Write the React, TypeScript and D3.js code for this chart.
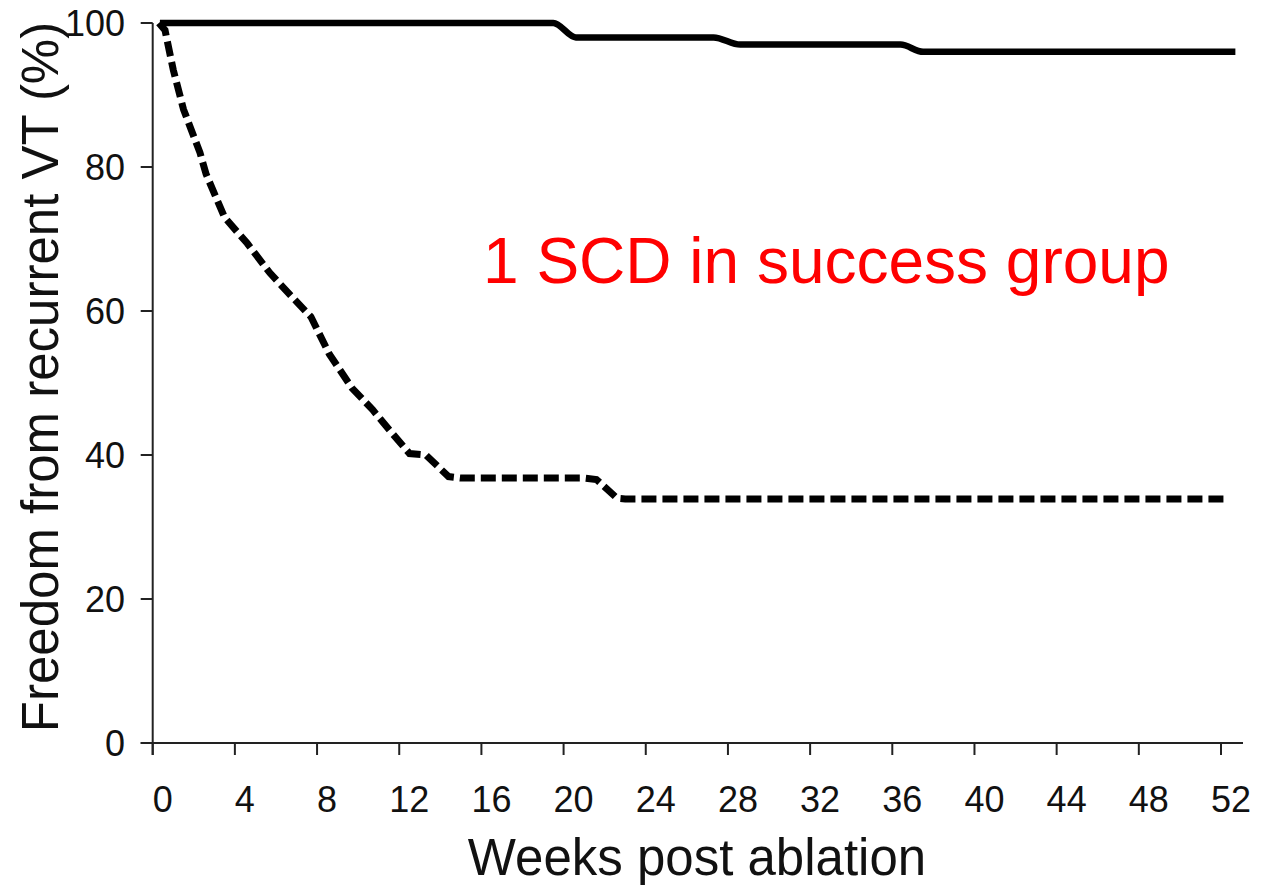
import React from "react";
import * as d3 from "d3";

const xTicks = [0, 4, 8, 12, 16, 20, 24, 28, 32, 36, 40, 44, 48, 52];
const yTicks = [0, 20, 40, 60, 80, 100];

const successWeeks = [0.35, 19.5, 20.6, 27.3, 28.6, 36.4, 37.5, 52.7];
const successValues = [100, 100, 98, 98, 97, 97, 96, 96];

const failureWeeks = [0.3, 0.6, 1.0, 1.5, 2.3, 2.6, 3.5, 4.6, 5.7, 6.7, 7.7, 8.6, 9.7, 10.7, 11.6, 12.5, 13.3, 14.4, 15.0, 21.0, 21.6, 22.6, 23.0, 52.2];
const failureValues = [100, 99, 93.5, 88, 82, 79, 73, 69.4, 65.3, 62.2, 59.2, 54, 49.3, 46.3, 43.2, 40.2, 40, 37, 36.8, 36.8, 36.6, 34, 33.9, 33.9];

const xLabel = "Weeks post ablation";
const yLabel = "Freedom from recurrent VT (%)";
const note = "1 SCD in success group";

export default function App() {
  const W = 1264, H = 885;
  const x = d3.scaleLinear().domain([0, 52]).range([152.7, 1221]);
  const y = d3.scaleLinear().domain([0, 100]).range([743, 23]);
  const font = "'Liberation Sans', Arial, Helvetica, sans-serif";

  const succ = successWeeks.map((w, i) => [w, successValues[i]] as [number, number]);
  const fail = failureWeeks.map((w, i) => [w, failureValues[i]] as [number, number]);

  const solidLine = d3.line<[number, number]>().x(d => x(d[0])).y(d => y(d[1])).curve(d3.curveMonotoneX);
  const dashLine = d3.line<[number, number]>().x(d => x(d[0])).y(d => y(d[1])).curve(d3.curveLinear);

  const axisColor = "#222";
  return (
    <svg width={W} height={H} style={{ position: "absolute", left: 0, top: 0, background: "#fff" }} fontFamily={font}>
      <rect x={0} y={0} width={W} height={H} fill="#fff" />
      {/* y axis */}
      <line x1={x(0)} x2={x(0)} y1={y(100)} y2={y(0) + 12} stroke={axisColor} strokeWidth={2} />
      {yTicks.map(t => (
        <g key={"y" + t}>
          <line x1={x(0) - 12} x2={x(0)} y1={y(t)} y2={y(t)} stroke={axisColor} strokeWidth={2} />
          <text x={125} y={y(t)} dy="0.36em" textAnchor="end" fontSize={36} fill="#111">{t}</text>
        </g>
      ))}
      {/* x axis */}
      <line x1={x(0) - 12} x2={1243} y1={y(0)} y2={y(0)} stroke={axisColor} strokeWidth={2} />
      {xTicks.map(t => (
        <g key={"x" + t}>
          <line x1={x(t)} x2={x(t)} y1={y(0)} y2={y(0) + 12} stroke={axisColor} strokeWidth={2} />
          <text x={x(t) + 10} y={812} textAnchor="middle" fontSize={36} fill="#111">{t}</text>
        </g>
      ))}
      <text x={697} y={875} textAnchor="middle" fontSize={51} fill="#111">{xLabel}</text>
      <text transform={`translate(58,377) rotate(-90)`} textAnchor="middle" fontSize={51} fill="#111">{yLabel}</text>

      <path d={solidLine(succ) || ""} fill="none" stroke="#000" strokeWidth={6.5} strokeLinejoin="round" />
      <path d={dashLine(fail) || ""} fill="none" stroke="#000" strokeWidth={7} strokeDasharray="15,6" />

      <text x={483} y={283} fontSize={64} fill="#ff0000">{note}</text>
    </svg>
  );
}
